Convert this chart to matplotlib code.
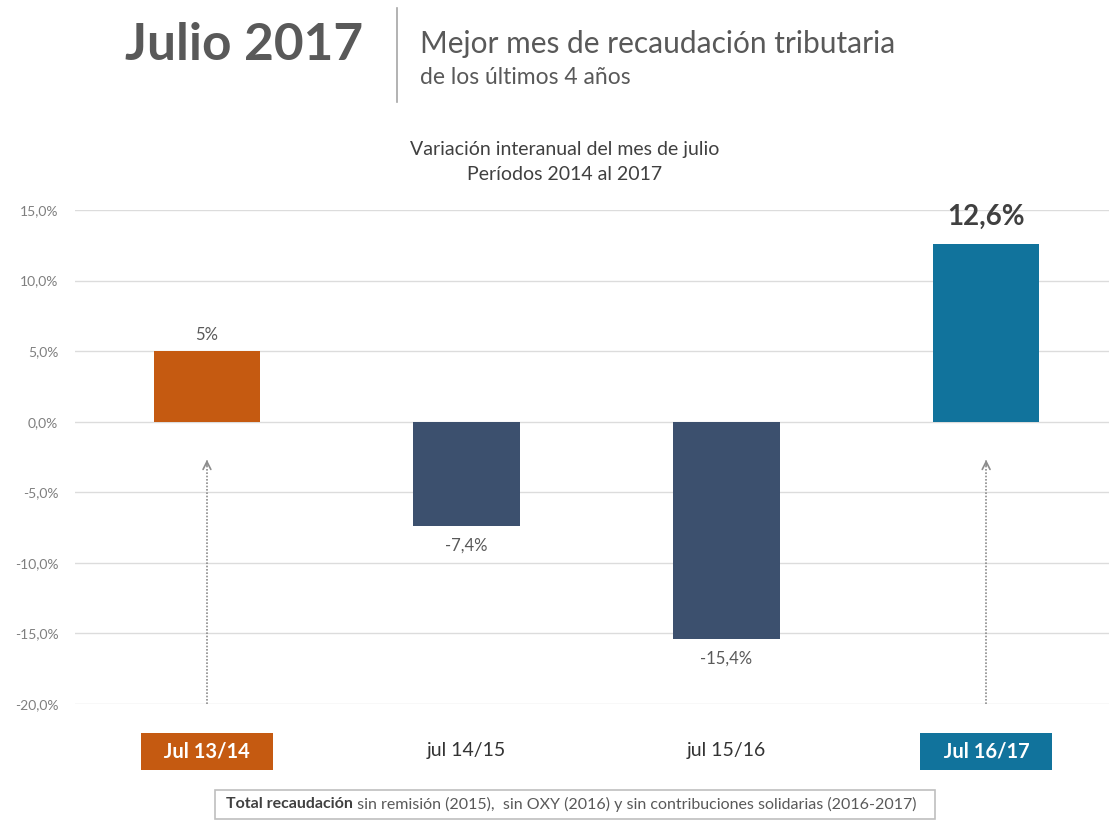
import matplotlib.pyplot as plt
from matplotlib.patches import Rectangle
from matplotlib.lines import Line2D
from matplotlib.text import Annotation

plt.rcParams.update({
    "font.family": ["Lato", "DejaVu Sans"],
})

categories = ["Jul 13/14", "jul 14/15", "jul 15/16", "Jul 16/17"]
values = [5.0, -7.4, -15.4, 12.6]
value_labels = ["5%", "-7,4%", "-15,4%", "12,6%"]
bar_colors = ["#C55A11", "#3C506E", "#3C506E", "#11739C"]
yticks = [15, 10, 5, 0, -5, -10, -15, -20]
ytick_labels = ["15,0%", "10,0%", "5,0%", "0,0%", "-5,0%", "-10,0%", "-15,0%", "-20,0%"]
highlight = [0, 3]

W, H = 1109, 821
fig = plt.figure(figsize=(W / 100, H / 100), dpi=100)
fig.patch.set_facecolor("white")

ax = fig.add_axes([75 / W, 1 - 704 / H, 1 - 75 / W, (704 - 210) / H])
x = list(range(len(categories)))
ax.bar(x, values, width=0.41, color=bar_colors, zorder=3)
ax.set_xlim(-0.508, 3.473)
ax.set_ylim(-20, 15)

ax.set_yticks(yticks)
ax.set_yticklabels(ytick_labels, fontsize=10, color="#7F7F7F")
ax.yaxis.grid(True, color="#DCDCDC", linewidth=1, zorder=0)
ax.tick_params(axis="y", length=0, pad=12)
ax.tick_params(axis="x", length=0, pad=27)
for s in ax.spines.values():
    s.set_visible(False)

# highlighted periods get wider boxes, padded with spaces
tick_texts = ["   " + c + "   " if i in highlight else c
              for i, c in enumerate(categories)]
ax.set_xticks(x)
ax.set_xticklabels(tick_texts, fontsize=14)
for i, t in enumerate(ax.get_xticklabels()):
    if i in highlight:
        t.set_color("white")
        t.set_fontweight("bold")
        t.set_fontsize(14.5)
        t.set_bbox(dict(boxstyle="square,pad=0.4", facecolor=bar_colors[i],
                        edgecolor="none"))
    else:
        t.set_color("#333333")

# value labels
for i, (v, lab) in enumerate(zip(values, value_labels)):
    if i == 3:
        ax.annotate(lab, (i, v), xytext=(0, 10), textcoords="offset points",
                    ha="center", va="bottom", fontsize=20, fontweight="bold",
                    color="#404040")
    elif v >= 0:
        ax.annotate(lab, (i, v), xytext=(0, 6), textcoords="offset points",
                    ha="center", va="bottom", fontsize=12, color="#595959")
    else:
        ax.annotate(lab, (i, v), xytext=(0, -8), textcoords="offset points",
                    ha="center", va="top", fontsize=12, color="#595959")

# dotted arrows from the labels up to the bars
for i in highlight:
    ax.vlines(i, -20, -2.7, colors="#8C8C8C", linestyles=(0, (1, 1)),
              linewidth=1.2, zorder=2)
    ax.annotate("", xy=(i, -2.5), xytext=(i, -3.3),
                arrowprops=dict(arrowstyle="->", color="#8C8C8C", lw=1.2,
                                mutation_scale=14))

# header
fig.text(125 / W, 1 - 45 / H, "Julio 2017", fontsize=37, fontweight="bold",
         color="#595959", ha="left", va="center")
fig.add_artist(Line2D([397 / W, 397 / W], [1 - 8 / H, 1 - 102 / H],
                      color="#A6A6A6", linewidth=1.2))
fig.text(420 / W, 1 - 44 / H, "Mejor mes de recaudación tributaria",
         fontsize=21.5, color="#595959", ha="left", va="center")
fig.text(420 / W, 1 - 78 / H, "de los últimos 4 años",
         fontsize=16.5, color="#595959", ha="left", va="center")

fig.text(565 / W, 1 - 150 / H, "Variación interanual del mes de julio",
         fontsize=14, color="#404040", ha="center", va="center")
fig.text(565 / W, 1 - 174 / H, "Períodos 2014 al 2017",
         fontsize=14, color="#404040", ha="center", va="center")

# footer note
fig.add_artist(Rectangle((215 / W, 1 - 819 / H), 720 / W, 29 / H,
                         transform=fig.transFigure, facecolor="none",
                         edgecolor="#BFBFBF", linewidth=1.2))
t1 = fig.text(226 / W, 1 - 804 / H, "Total recaudación", fontsize=11.5,
              fontweight="bold", color="#404040", ha="left", va="center")
fig.add_artist(Annotation(" sin remisión (2015),  sin OXY (2016) y sin contribuciones solidarias (2016-2017)",
                          xy=(1, 0.5), xycoords=t1, ha="left", va="center",
                          fontsize=11.5, color="#595959", annotation_clip=False))

fig.savefig("out.png", dpi=100)
